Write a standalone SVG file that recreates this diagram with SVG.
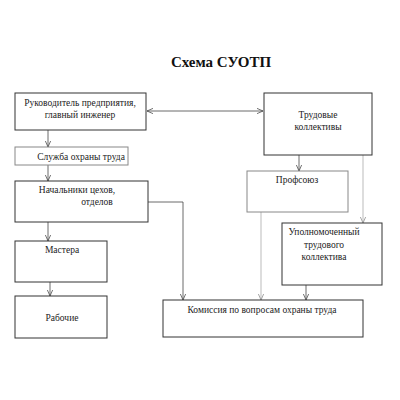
<svg xmlns="http://www.w3.org/2000/svg" width="400" height="400" viewBox="0 0 400 400">
<style>
.box{fill:#fff;stroke:#333;stroke-width:1}
.lbox{fill:#fff;stroke:#888;stroke-width:1}
text{font-family:"Liberation Serif","Times New Roman",serif;font-size:9.5px;fill:#222;text-anchor:middle}
.title{font-size:15px;font-weight:bold;fill:#111}
.ln{fill:none;stroke:#444;stroke-width:0.8}
.gl{fill:none;stroke:#aaa;stroke-width:0.8}
</style>
<defs>
<marker id="a" viewBox="0 0 8 8" refX="8" refY="4" markerWidth="6" markerHeight="6" orient="auto-start-reverse" markerUnits="userSpaceOnUse">
<path d="M0,0.5 L8,4 L0,7.5" fill="none" stroke="#444" stroke-width="1"/>
</marker>
<marker id="ag" viewBox="0 0 8 8" refX="8" refY="4" markerWidth="6" markerHeight="6" orient="auto" markerUnits="userSpaceOnUse">
<path d="M0,0.5 L8,4 L0,7.5" fill="none" stroke="#888" stroke-width="1"/>
</marker>
</defs>
<rect width="400" height="400" fill="#fff"/>
<text class="title" x="221" y="67">Схема СУОТП</text>
<g id="connectors">
<path class="ln" d="M147,111 H263" marker-start="url(#a)" marker-end="url(#a)"/>
<path class="ln" d="M48,130 V147" marker-end="url(#a)"/>
<path class="ln" d="M48,165 V181" marker-end="url(#a)"/>
<path class="ln" d="M48,222 V241" marker-end="url(#a)"/>
<path class="ln" d="M50,282 V296" marker-end="url(#a)"/>
<path class="ln" d="M148,202 H183 V300" marker-end="url(#a)"/>
<path class="ln" d="M299,155 V171" marker-end="url(#a)"/>
<path class="gl" d="M363,155 V223" marker-end="url(#ag)"/>
<path class="gl" d="M261,212 V300" marker-end="url(#ag)"/>
<path class="ln" d="M306,285 V300" marker-end="url(#a)"/>
</g>
<g id="n1"><rect class="box" x="15" y="93" width="131" height="37"/><text x="80" y="106">Руководитель предприятия,</text><text x="80" y="118">главный инженер</text></g>
<g id="n2"><rect class="box" x="264" y="93" width="108" height="62"/><text x="318" y="118">Трудовые</text><text x="318" y="130">коллективы</text></g>
<g id="n3"><rect class="lbox" x="15" y="147" width="113" height="18"/><text x="81" y="160">Служба охраны труда</text></g>
<g id="n4"><rect class="box" x="15" y="181" width="133" height="41"/><text x="77" y="193">Начальники цехов,</text><text x="97" y="205">отделов</text></g>
<g id="n5"><rect class="lbox" x="247" y="171" width="101" height="41"/><text x="297" y="183">Профсоюз</text></g>
<g id="n6"><rect class="box" x="282" y="223" width="100" height="62"/><text x="324" y="235">Уполномоченный</text><text x="324" y="248">трудового</text><text x="324" y="260">коллектива</text></g>
<g id="n7"><rect class="box" x="15" y="241" width="92" height="41"/><text x="62" y="253">Мастера</text></g>
<g id="n8"><rect class="box" x="15" y="296" width="92" height="42"/><text x="62" y="321">Рабочие</text></g>
<g id="n9"><rect class="box" x="163" y="300" width="200" height="37"/><text x="262" y="313">Комиссия по вопросам охраны труда</text></g>
</svg>
